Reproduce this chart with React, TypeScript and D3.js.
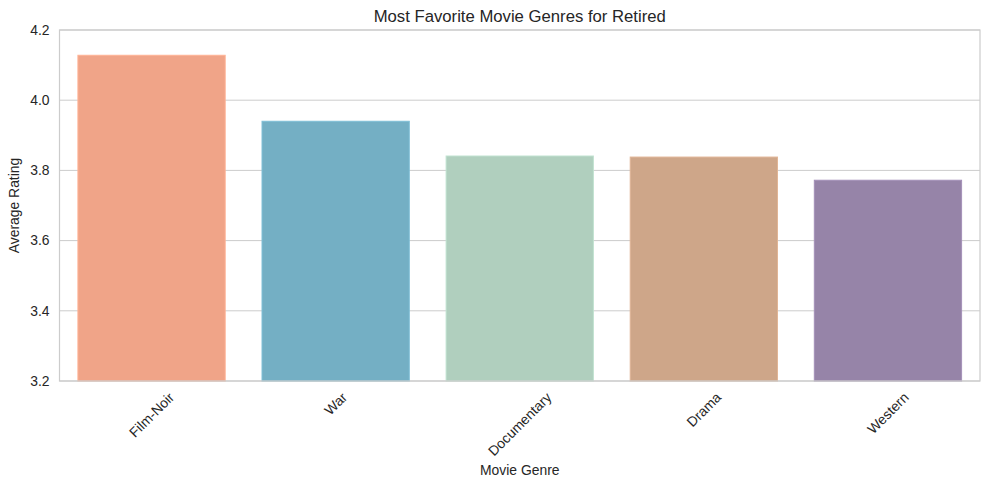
import * as React from 'react';
import {useEffect, useRef} from 'react';
import * as d3 from 'd3';

const width = 989;
const height = 489;

const genres = ['Film-Noir', 'War', 'Documentary', 'Drama', 'Western'];
const ratings = [4.128, 3.94, 3.841, 3.838, 3.772];
const colors = ['#f0a488', '#74afc4', '#b0cfbe', '#cea689', '#9684a8'];
const yTicks = [3.2, 3.4, 3.6, 3.8, 4.0, 4.2];

const margin = {top: 30, right: 9, bottom: 108, left: 59.5};
const font = 'Liberation Sans, Arial, sans-serif';
const textColor = '#262626';
const fs = 13.9;

export default function App() {
  const ref = useRef<SVGSVGElement>(null);

  useEffect(() => {
    const svg = d3.select(ref.current);
    svg.selectAll('*').remove();

    const x = d3.scaleBand()
      .domain(genres)
      .range([margin.left, width - margin.right])
      .paddingInner(0.2)
      .paddingOuter(0.1);

    const y = d3.scaleLinear()
      .domain([3.2, 4.2])
      .range([height - margin.bottom, margin.top]);

    // grid
    svg.append('g')
      .selectAll('line')
      .data(yTicks)
      .join('line')
        .attr('x1', margin.left)
        .attr('x2', width - margin.right)
        .attr('y1', d => y(d))
        .attr('y2', d => y(d))
        .attr('stroke', '#cccccc')
        .attr('stroke-width', 1);

    // bars
    svg.append('g')
      .selectAll('rect')
      .data(genres)
      .join('rect')
        .attr('x', d => x(d)!)
        .attr('width', x.bandwidth())
        .attr('y', (d, i) => y(ratings[i]))
        .attr('height', (d, i) => y(3.2) - y(ratings[i]))
        .attr('fill', (d, i) => colors[i])
        .attr('stroke', (d, i) => d3.color(colors[i])!.brighter(0.25).formatHex())
        .attr('stroke-width', 1);

    // spines
    svg.append('rect')
      .attr('x', margin.left)
      .attr('y', margin.top)
      .attr('width', width - margin.right - margin.left)
      .attr('height', y(3.2) - margin.top)
      .attr('fill', 'none')
      .attr('stroke', '#cccccc')
      .attr('stroke-width', 1.2);

    // y tick labels
    svg.append('g')
      .selectAll('text')
      .data(yTicks)
      .join('text')
        .attr('x', margin.left - 10)
        .attr('y', d => y(d))
        .attr('dy', '0.35em')
        .attr('text-anchor', 'end')
        .attr('font-family', font)
        .attr('font-size', fs)
        .attr('fill', textColor)
        .text(d => d.toFixed(1));

    // x tick labels, rotated 45 and centred on the tick
    const xl = svg.append('g');
    genres.forEach(g => {
      const cx = x(g)! + x.bandwidth() / 2;
      const t = xl.append('text')
        .attr('font-family', font)
        .attr('font-size', fs)
        .attr('fill', textColor)
        .attr('text-anchor', 'middle')
        .attr('dy', '0.35em')
        .text(g);
      const w = (t.node() as SVGTextElement).getComputedTextLength();
      const h = fs;
      const s = Math.SQRT1_2;
      const cy = y(3.2) + 9 + (w * s + h * s) / 2;
      t.attr('transform', `translate(${cx},${cy}) rotate(-45)`);
    });

    // axis labels
    svg.append('text')
      .attr('x', (margin.left + width - margin.right) / 2)
      .attr('y', 475)
      .attr('text-anchor', 'middle')
      .attr('font-family', font)
      .attr('font-size', fs)
      .attr('fill', textColor)
      .text('Movie Genre');

    svg.append('text')
      .attr('transform', `translate(19,${(margin.top + y(3.2)) / 2}) rotate(-90)`)
      .attr('text-anchor', 'middle')
      .attr('font-family', font)
      .attr('font-size', fs)
      .attr('fill', textColor)
      .text('Average Rating');

    // title
    svg.append('text')
      .attr('x', (margin.left + width - margin.right) / 2)
      .attr('y', 22)
      .attr('text-anchor', 'middle')
      .attr('font-family', font)
      .attr('font-size', 16.7)
      .attr('fill', textColor)
      .text('Most Favorite Movie Genres for Retired');
  }, []);

  return (
    <svg ref={ref} width={width} height={height}
      style={{position: 'absolute', left: 0, top: 0, background: '#fff'}} />
  );
}
